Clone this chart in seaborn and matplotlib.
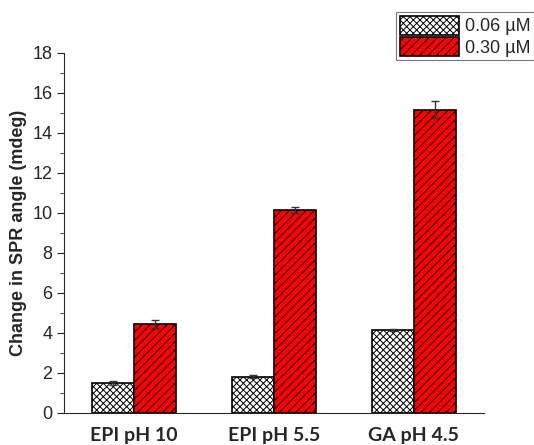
import pandas as pd
import seaborn as sns
import matplotlib.pyplot as plt
from matplotlib.ticker import MultipleLocator

# datos
condiciones = ["EPI pH 10", "EPI pH 5.5", "GA pH 4.5"]
concentraciones = ["0.06 \u00b5M", "0.30 \u00b5M"]
valores_006 = [1.47, 1.80, 4.13]
valores_030 = [4.42, 10.12, 15.15]
error_006 = [0.10, 0.07, 0.05]
error_030 = [0.20, 0.15, 0.43]

df = pd.DataFrame({
    "condicion": condiciones * 2,
    "conc": [concentraciones[0]] * 3 + [concentraciones[1]] * 3,
    "valor": valores_006 + valores_030,
    "error": error_006 + error_030,
})

sns.set_style("ticks")
plt.rcParams["font.family"] = ["Liberation Sans", "DejaVu Sans"]
plt.rcParams["hatch.linewidth"] = 0.7

fig = plt.figure(figsize=(5.34, 4.45), dpi=100)
ax = fig.add_axes([0.12, 0.0726, 0.786, 0.809])

sns.barplot(
    data=df, x="condicion", y="valor", hue="conc",
    palette=["#ffffff", "#ff0000"], saturation=1, width=0.6, gap=0,
    edgecolor="black", linewidth=1.2, errorbar=None, ax=ax,
)

tramas = ["xxxxx", "////"]

# tramas y barras de error
for patch_group, hatch, errs in zip(ax.containers, tramas, [error_006, error_030]):
    xs = []
    ys = []
    for bar in patch_group:
        bar.set_hatch(hatch)
        xs.append(bar.get_x() + bar.get_width() / 2)
        ys.append(bar.get_height())
    ax.errorbar(xs, ys, yerr=errs, fmt="none", ecolor="#333333",
                elinewidth=1, capsize=3, capthick=1, zorder=5)

ax.set_xlim(-0.5, 2.5)
ax.set_ylim(0, 18)
ax.yaxis.set_major_locator(MultipleLocator(2))
ax.yaxis.set_minor_locator(MultipleLocator(1))
ax.tick_params(axis="y", which="major", length=5, labelsize=13, direction="out")
ax.tick_params(axis="y", which="minor", length=3, direction="out")
ax.tick_params(axis="x", length=0, pad=10)
for lbl in ax.get_xticklabels():
    lbl.set_fontfamily("Lato")
    lbl.set_fontweight("bold")
    lbl.set_fontsize(14)
sns.despine(ax=ax)
ax.set_xlabel("")
ax.set_ylabel("Change in SPR angle (mdeg)", fontsize=13, fontweight="bold")

leg = ax.legend(
    title=None, loc="upper right", bbox_to_anchor=(1.0, 0.972), bbox_transform=fig.transFigure,
    fontsize=13, frameon=True, fancybox=False, edgecolor="#555555",
    handlelength=3.3, handleheight=1.2, handletextpad=0.3, borderpad=0.2,
    labelspacing=0.1, borderaxespad=0,
)
leg.get_frame().set_linewidth(0.8)
for handle, hatch in zip(leg.legend_handles, tramas):
    handle.set_hatch(hatch)
    handle.set_edgecolor("black")

fig.savefig("out.png", dpi=100)
